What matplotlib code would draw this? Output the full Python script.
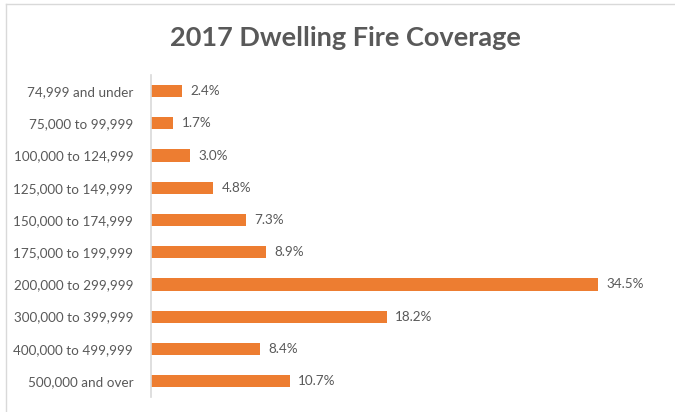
import matplotlib
matplotlib.use("Agg")
import matplotlib.pyplot as plt
from matplotlib.lines import Line2D

categories = ["74,999 and under", "75,000 to 99,999", "100,000 to 124,999",
              "125,000 to 149,999", "150,000 to 174,999", "175,000 to 199,999",
              "200,000 to 299,999", "300,000 to 399,999", "400,000 to 499,999",
              "500,000 and over"]
values = [2.4, 1.7, 3.0, 4.8, 7.3, 8.9, 34.5, 18.2, 8.4, 10.7]
title = "2017 Dwelling Fire Coverage"

plt.rcParams['font.family'] = ['Lato', 'DejaVu Sans']
gray = "#595959"

fig = plt.figure(figsize=(6.75, 4.12), dpi=100)
ax = fig.add_axes([0.224, 0.036, 0.767, 0.782])

y = list(range(len(categories)))
ax.barh(y, values, height=0.38, color="#ED7D31")
ax.set_ylim(len(categories) - 0.5, -0.5)
ax.set_xlim(0, 40)
ax.set_yticks(y)
ax.set_yticklabels(categories, fontsize=9.7, color=gray)
ax.tick_params(axis='y', length=0, pad=13)
ax.set_xticks([])
for s in ["top", "right", "bottom"]:
    ax.spines[s].set_visible(False)
ax.spines["left"].set_color("#D9D9D9")
ax.spines["left"].set_linewidth(1.2)

for yi, v in zip(y, values):
    ax.text(v + 0.65, yi, f"{v:.1f}%", va="center", ha="left", fontsize=9.7, color=gray)

fig.text(0.512, 0.908, title, ha="center", va="center", fontsize=19.5,
         fontweight="bold", color=gray)

fig.add_artist(Line2D([6/675, 6/675], [0, 1 - 4/412], transform=fig.transFigure,
                      color="#D9D9D9", lw=1))
fig.add_artist(Line2D([6/675, 1], [1 - 4/412, 1 - 4/412], transform=fig.transFigure,
                      color="#D9D9D9", lw=1))

fig.savefig("out.png", dpi=100)
